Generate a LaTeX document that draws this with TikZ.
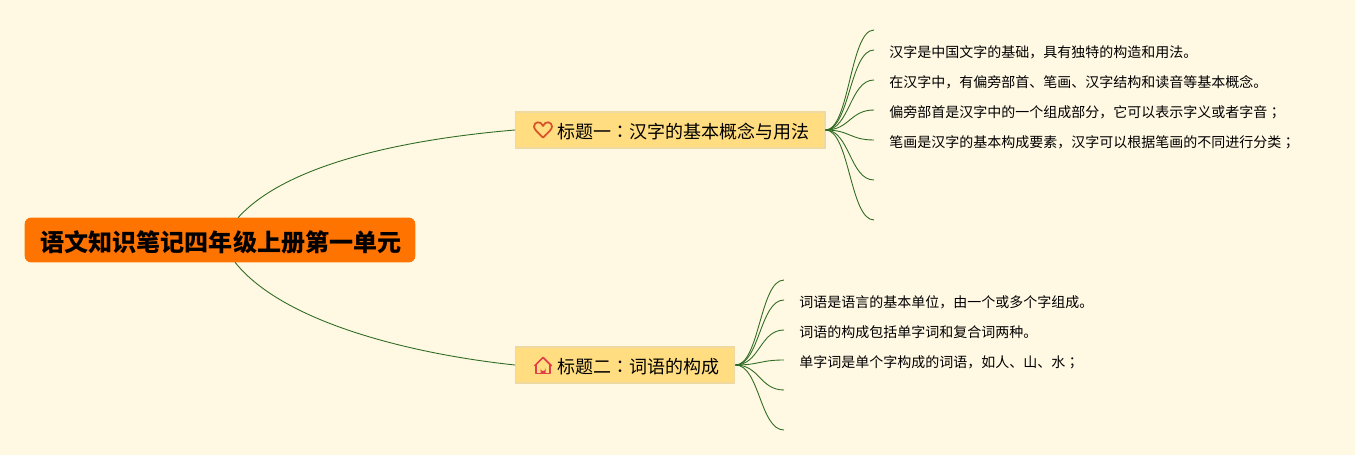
\documentclass[tikz,border=0pt]{standalone}
\usepackage{fontspec}
\setmainfont{Noto Sans CJK SC}
\newfontfamily\colonfont{Noto Sans CJK TC}
\newcommand{\midmark}[1]{{\colonfont #1}}
\usetikzlibrary{positioning}
\definecolor{pagecolor}{HTML}{FFF8E3}
\definecolor{rootcolor}{HTML}{FF7300}
\definecolor{branchcolor}{HTML}{FFDD80}
\definecolor{branchline}{HTML}{EED9A0}
\definecolor{edgecolor}{HTML}{2F6B22}
\definecolor{heartcolor}{HTML}{D9532A}
\definecolor{housecolor}{HTML}{E0404A}
\tikzset{
    rootbox/.style={draw=rootcolor,fill=rootcolor,rounded corners=0.12cm,minimum width=7.8cm,minimum height=0.88cm,inner sep=0pt,text height=13.5pt,text depth=0.8pt,font=\fontsize{13.7pt}{16pt}\selectfont\bfseries},
    branchbox/.style={draw=branchline,fill=branchcolor,line width=0.8pt,minimum height=0.72cm,inner xsep=0.3cm,inner ysep=0pt,anchor=west,text height=10.4pt,text depth=0.8pt,font=\fontsize{10.25pt}{12pt}\selectfont},
    leafnode/.style={anchor=west,inner xsep=0.3cm,inner ysep=0pt,text height=8.8pt,text depth=0.8pt,font=\fontsize{7.97pt}{10pt}\selectfont},
    edgeline/.style={draw=edgecolor,line width=0.5pt},
    iconline/.style={line width=1pt,line join=round}
}
\begin{document}
\begin{tikzpicture}[x=0.02cm,y=-0.02cm]
    \useasboundingbox[fill=pagecolor] (0,0) rectangle (1355,455);
    % main nodes
    \node[rootbox] (root) at (220,240) {\hspace{0.04cm}语文知识笔记四年级上册第一单元};
    \node[branchbox] (branchA) at (515,130) {\hspace{0.54cm}标题一\midmark{：}汉字的基本概念与用法};
    \node[branchbox] (branchB) at (515,365) {\hspace{0.54cm}标题二\midmark{：}词语的构成};
    % icons
    \draw[heartcolor,iconline] (543,137.5) .. controls (537,132) and (534,129) .. (534,126.5) .. controls (534,121.5) and (541,120.5) .. (543,126) .. controls (545,120.5) and (552,121.5) .. (552,126.5) .. controls (552,129) and (549,132) .. (543,137.5) -- cycle;
    \draw[housecolor,iconline] (534.5,366) -- (543,357.5) -- (551.5,366);
    \draw[housecolor,iconline] (536,364.5) -- (536,373.5) -- (550,373.5) -- (550,364.5);
    \fill[housecolor] (540.5,373.5) -- (540.5,368.5) arc[start angle=180,end angle=0,radius=2.5] -- (545.5,373.5) -- cycle;
    % first branch
    \coordinate (endA1) at (874,30);
    \node[leafnode] (leafA2) at (874,50) {汉字是中国文字的基础，具有独特的构造和用法。};
    \node[leafnode] (leafA3) at (874,80) {在汉字中，有偏旁部首、笔画、汉字结构和读音等基本概念。};
    \node[leafnode] (leafA4) at (874,110) {偏旁部首是汉字中的一个组成部分，它可以表示字义或者字音\midmark{；}};
    \node[leafnode] (leafA5) at (874,140) {笔画是汉字的基本构成要素，汉字可以根据笔画的不同进行分类\midmark{；}};
    \coordinate (endA6) at (874,180);
    \coordinate (endA7) at (874,220);
    \foreach \leaf in {endA1,leafA2.west,leafA3.west,leafA4.west,leafA5.west,endA6,endA7}
        \draw[edgeline] (branchA.east) .. controls +(24,0) and +(-24,0) .. (\leaf);
    % second branch
    \coordinate (endB1) at (784,280);
    \node[leafnode] (leafB2) at (784,300) {词语是语言的基本单位，由一个或多个字组成。};
    \node[leafnode] (leafB3) at (784,330) {词语的构成包括单字词和复合词两种。};
    \node[leafnode] (leafB4) at (784,360) {单字词是单个字构成的词语，如人、山、水\midmark{；}};
    \coordinate (endB5) at (784,390);
    \coordinate (endB6) at (784,430);
    \foreach \leaf in {endB1,leafB2.west,leafB3.west,leafB4.west,endB5,endB6}
        \draw[edgeline] (branchB.east) .. controls +(24,0) and +(-24,0) .. (\leaf);
    % root connectors
    \draw[edgeline] (root.51) .. controls (290,160) and (420,138) .. (branchA.west);
    \draw[edgeline] (root.-56) .. controls (285,325) and (420,355) .. (branchB.west);
\end{tikzpicture}
\end{document}
